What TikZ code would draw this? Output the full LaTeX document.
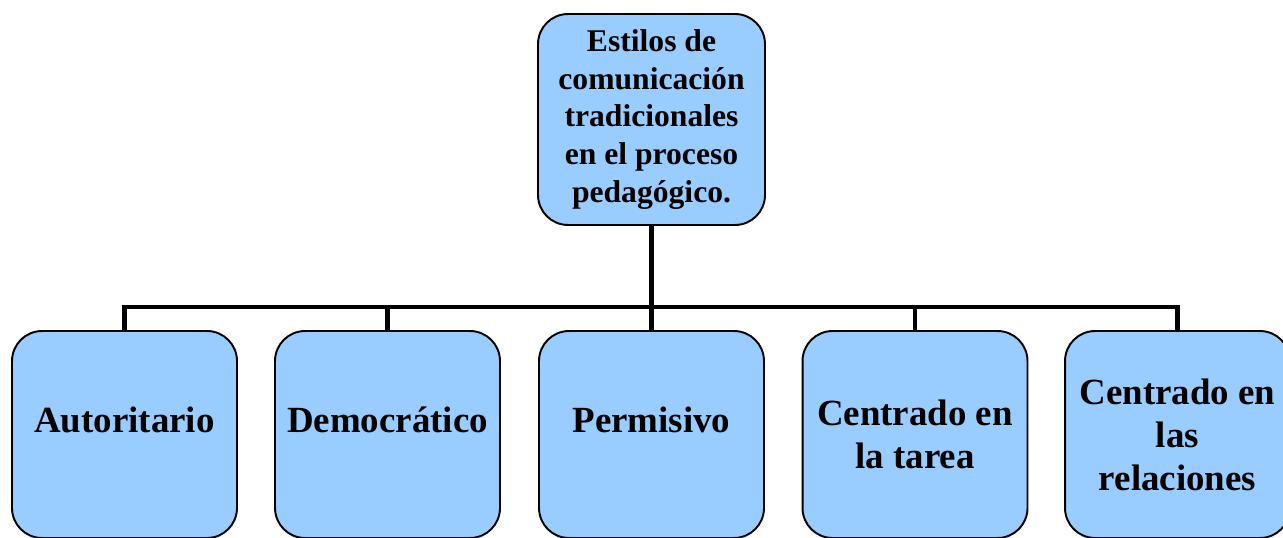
\documentclass[tikz,border=0pt]{standalone}
\usepackage{fontspec}
\setmainfont{Liberation Serif}
\definecolor{cajaazul}{HTML}{99CCFF}

\begin{document}
\begin{tikzpicture}[x=0.02cm,y=-0.02cm,
  caja/.style={shape=rectangle,rounded corners=0.6cm,draw,line width=1.1pt,fill=cajaazul,align=center,inner sep=2pt,font=\bfseries\fontsize{21}{24.5}\selectfont,minimum width=4.5cm,minimum height=4.14cm},
  unalinea/.style={caja,text depth=0.6cm},
  raiz/.style={caja,minimum width=4.54cm,minimum height=4.22cm,font=\bfseries\fontsize{18}{21.5}\selectfont},
  rama/.style={line width=2.8pt}]
\useasboundingbox (0,0) rectangle (1283,537);
\clip (0,0) rectangle (1283,537);
\node (estilos) at (651.5,119.5) [raiz] {Estilos de\\comunicación\\tradicionales\\en el proceso\\pedagógico.};
\node (autoritario) at (124.5,434.5) [unalinea] {Autoritario};
\node (democratico) at (387.5,434.5) [unalinea] {Democrático};
\node (permisivo)   at (651.5,434.5) [unalinea] {Permisivo};
\node (tarea)       at (915,434.5)   [caja] {Centrado en\\la tarea};
\node (relaciones)  at (1177.5,434.5) [caja] {Centrado en\\las\\relaciones};
\coordinate (bar) at (651.5,307);
\draw [rama] (estilos) -- (bar);
\draw [rama] (autoritario.north) |- (bar) -| (relaciones.north);
\draw [rama] (democratico.north) -- (democratico.north |- bar);
\draw [rama] (permisivo.north) -- (bar);
\draw [rama] (tarea.north) -- (tarea.north |- bar);
\end{tikzpicture}
\end{document}
